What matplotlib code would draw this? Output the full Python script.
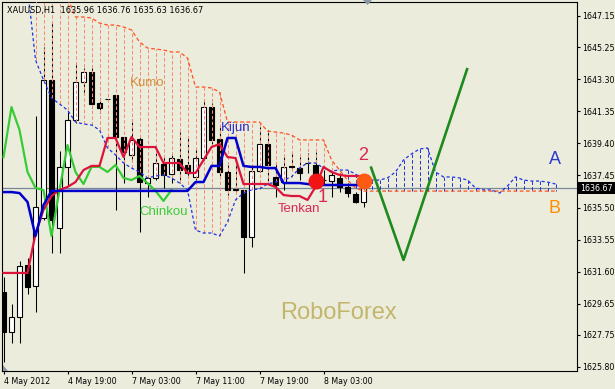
import matplotlib
matplotlib.use("Agg")
import matplotlib.pyplot as plt
import numpy as np
import matplotlib.transforms as mtransforms
from matplotlib.patches import Rectangle, Polygon

# ---------------- data ----------------
opens = [1630.36, 1627.93, 1628.84, 1632.00, 1630.73, 1634.86, 1643.26, 1634.26, 1637.97, 1640.82,
         1643.14, 1643.74, 1641.86, 1642.10, 1642.34, 1639.79, 1638.70, 1639.67, 1636.99, 1637.30,
         1638.15, 1637.54, 1638.45, 1638.09, 1637.36, 1638.51, 1641.61, 1639.67, 1637.66, 1636.57,
         1636.57, 1633.71, 1637.72, 1639.36, 1637.36, 1637.05, 1638.03, 1637.90, 1638.21, 1638.09,
         1637.17, 1637.11, 1637.30, 1636.75, 1636.32, 1635.84]
highs = [1631.27, 1629.63, 1632.25, 1632.43, 1641.07, 1645.26, 1646.79, 1638.94, 1641.31, 1644.35,
         1643.99, 1643.99, 1642.16, 1642.10, 1642.34, 1639.79, 1640.88, 1639.79, 1637.48, 1638.82,
         1638.57, 1638.70, 1640.09, 1639.85, 1639.12, 1642.10, 1641.86, 1640.40, 1638.09, 1638.39,
         1636.57, 1637.97, 1640.40, 1640.22, 1638.27, 1638.57, 1638.82, 1638.57, 1638.82, 1638.88,
         1637.78, 1637.78, 1637.60, 1636.99, 1636.44, 1637.30]
lows = [1626.10, 1627.26, 1627.26, 1630.24, 1629.15, 1634.74, 1632.73, 1632.73, 1636.87, 1640.64,
        1642.34, 1641.55, 1641.25, 1642.08, 1635.35, 1636.99, 1638.39, 1634.01, 1636.14, 1637.17,
        1636.69, 1636.99, 1636.99, 1637.36, 1637.17, 1638.39, 1639.36, 1637.36, 1636.26, 1636.44,
        1631.52, 1633.10, 1637.66, 1636.99, 1636.14, 1636.57, 1637.78, 1637.17, 1637.60, 1636.87,
        1636.87, 1636.14, 1636.44, 1636.14, 1635.78, 1635.53]
closes = [1627.93, 1628.84, 1631.94, 1630.67, 1635.53, 1643.26, 1634.74, 1637.97, 1640.82, 1643.14,
          1643.74, 1641.80, 1641.55, 1642.10, 1639.79, 1638.88, 1639.61, 1637.05, 1637.30, 1638.21,
          1637.48, 1638.51, 1637.78, 1637.60, 1638.51, 1641.61, 1639.61, 1637.66, 1636.57, 1636.60,
          1633.71, 1637.72, 1639.36, 1638.09, 1636.87, 1637.97, 1637.97, 1637.60, 1638.21, 1637.24,
          1637.17, 1637.48, 1636.75, 1636.38, 1635.84, 1636.67]

tenkan = [1631.52, 1631.52, 1631.52, 1631.52, 1633.89, 1635.35, 1636.20, 1636.57, 1636.75, 1637.05,
          1637.78, 1638.03, 1638.03, 1639.73, 1639.73, 1638.57, 1639.79, 1639.18, 1639.18, 1639.18,
          1638.21, 1638.21, 1638.21, 1637.60, 1637.60, 1638.39, 1639.18, 1639.36, 1638.57, 1638.51,
          1636.93, 1636.93, 1636.93, 1636.93, 1636.75, 1636.26, 1636.20, 1636.20, 1635.96, 1636.75,
          1637.97, 1637.66, 1637.48, 1637.42, 1637.42, 1637.42]
kijun = [1636.44, 1636.44, 1636.38, 1635.84, 1633.77, 1635.65, 1636.51, 1636.51, 1636.51, 1636.51,
         1636.51, 1636.51, 1636.51, 1636.51, 1636.51, 1636.51, 1636.51, 1636.51, 1636.51, 1636.51,
         1636.51, 1636.51, 1636.51, 1636.51, 1637.05, 1637.05, 1638.03, 1638.03, 1639.73, 1639.73,
         1638.03, 1637.97, 1637.97, 1637.90, 1637.90, 1636.99, 1636.99, 1636.99, 1636.93, 1636.87,
         1636.87, 1636.87, 1636.87, 1636.87, 1636.87, 1636.87]
chinkou = [1638.57, 1641.61, 1640.22, 1637.66, 1636.69, 1636.57, 1633.77, 1636.57, 1639.30, 1637.66,
           1636.93, 1637.97, 1637.97, 1637.66, 1638.09, 1637.30, 1637.17, 1637.42, 1636.99, 1636.51,
           1635.90, 1636.57]

cloud_start = 3
span_a = [1648.90, 1644.47, 1643.26, 1642.16, 1641.80, 1641.43, 1640.70, 1640.58, 1640.52, 1640.22,
          1639.12, 1638.70, 1638.21, 1637.90, 1637.66, 1637.30, 1637.42, 1637.48, 1637.30, 1636.99,
          1636.57, 1634.13, 1633.95, 1633.95, 1633.77, 1634.62, 1635.96, 1636.38, 1636.57, 1636.63,
          1636.93, 1637.05, 1637.17, 1637.36, 1637.90, 1638.21, 1638.21, 1637.90, 1637.72, 1637.78,
          1637.78, 1637.54, 1637.17, 1637.17, 1637.17, 1637.30, 1637.66, 1638.39, 1638.76, 1639.06,
          1639.12, 1637.66, 1637.36, 1637.36, 1637.30, 1637.17, 1636.69, 1636.57, 1636.57, 1636.38,
          1636.81, 1637.36, 1637.17, 1637.11, 1637.11, 1637.05, 1636.93]
span_b = ([1650.50, 1649.95, 1649.34, 1648.73, 1648.43, 1648.24, 1647.09, 1647.09, 1647.03, 1646.72,
           1646.60, 1646.60, 1646.48, 1646.30, 1645.57, 1645.20, 1645.14, 1645.08, 1644.96, 1644.96,
           1644.59, 1642.83, 1642.83, 1642.77, 1642.53]
          + [1640.70] * 5 + [1640.15, 1640.09, 1640.03, 1639.91] + [1639.61] * 4
          + [1638.39, 1637.78, 1637.17, 1636.69] + [1636.50] * 25)

proj_x = [45.9, 50.0, 58.0]
proj_y = [1638.00, 1632.31, 1643.99]

last_price = 1636.67
ytick_vals = [1647.15, 1645.25, 1643.30, 1641.35, 1639.40, 1637.45, 1635.50,
              1633.55, 1631.60, 1629.65, 1627.75, 1625.80]
xtick_pos = [0, 8, 16, 24, 32, 40]
xtick_labels = ["4 May 2012", "4 May 19:00", "7 May 03:00", "7 May 11:00", "7 May 19:00", "8 May 03:00"]
title = "XAUUSD,H1  1635.96 1636.76 1635.63 1636.67"

# ---------------- drawing ----------------
BG = "#ECECDC"
W, H = 615, 389
FS = 5.7
fig = plt.figure(figsize=(W / 100, H / 100), dpi=100, facecolor=BG)
ax = fig.add_axes([2 / W, 18 / H, 575 / W, 369 / H])
ax.set_facecolor(BG)
xmin = -0.1875
ax.set_xlim(xmin, xmin + 575 / 8)
ax.set_ylim(1625.556, 1648.001)

x = np.arange(len(opens))
o = np.array(opens); c = np.array(closes)
ax.axhline(last_price, color="#778899", lw=0.9, zorder=1)

ax.vlines(x, lows, highs, color="black", lw=0.75, zorder=2)
bottoms = np.minimum(o, c)
heights = np.maximum(np.abs(c - o), 0.015)
colors = ["white" if cc >= oo else "black" for oo, cc in zip(o, c)]
ax.bar(x, heights, bottom=bottoms, width=0.6, color=colors, edgecolor="black",
       linewidth=0.8, zorder=3)

cx = np.arange(cloud_start, cloud_start + len(span_a))
sa = np.array(span_a); sb = np.array(span_b)
hatch_cols = ["#F58C6E" if b >= a else "#2233E0" for a, b in zip(sa, sb)]
ax.vlines(cx, sa, sb, colors=hatch_cols, linestyles=(0, (3.5, 2.2)), lw=0.72, zorder=4)
ax.plot(cx, sa, color="#1E32E6", lw=0.9, ls=(0, (2.5, 2)), zorder=4)
ax.plot(cx, sb, color="#FF5020", lw=0.9, ls=(0, (3, 2)), zorder=4)

ax.plot(x[:len(chinkou)], chinkou, color="#36CC36", lw=1.6, zorder=5)
ax.plot(x, tenkan, color="#DC143C", lw=1.6, zorder=5)
ax.plot(x, kijun, color="#0000CD", lw=1.8, zorder=5)

ax.plot([39.0], [1637.11], "o", color="#F01414", ms=11.5, mec="none", zorder=6)
ax.plot([45.1], [1637.11], "o", color="#FF5A14", ms=11.5, mec="none", zorder=6)

ax.plot(proj_x, proj_y, color="#1E8A1E", lw=1.9, zorder=6, solid_capstyle="butt")

lab = dict(family="Liberation Sans", ha="center", va="center", zorder=7)
ax.text(17.9, 1643.07, "Kumo", color="#D4923E", fontsize=9.5, **lab)
ax.text(29.0, 1640.34, "Kijun", color="#2B2BD0", fontsize=9.5, **lab)
ax.text(20.0, 1635.23, "Chinkou", color="#3CCB3C", fontsize=9.5, **lab)
ax.text(36.9, 1635.41, "Tenkan", color="#DC2850", fontsize=9.5, **lab)
ax.text(39.9, 1636.08, "1", color="#DC2850", fontsize=13, **lab)
ax.text(45.0, 1638.67, "2", color="#DC2850", fontsize=13, **lab)
ax.text(68.9, 1638.45, "A", color="#2A3CD0", fontsize=13, **lab)
ax.text(68.9, 1635.41, "B", color="#FF8C00", fontsize=13, **lab)
ax.text(41.9, 1629.08, "RoboForex", color="#C2B66E", fontsize=17, **lab)

for s in ax.spines.values():
    s.set_color("black"); s.set_linewidth(0.8)

ax.yaxis.tick_right()
ax.set_yticks(ytick_vals)
ax.set_yticklabels([f"{v:.2f}" for v in ytick_vals])
ax.tick_params(axis="y", direction="out", length=2.2, width=0.8, pad=1.2, labelsize=FS,
               colors="black")
ax.set_xticks(xtick_pos)
ax.set_xticklabels(xtick_labels, ha="left")
ax.tick_params(axis="x", direction="out", length=2.5, width=0.8, pad=1.5, labelsize=FS,
               colors="black")

trans = mtransforms.blended_transform_factory(fig.transFigure, ax.transData)
ax.add_patch(Rectangle((578 / W, last_price - 0.37), 37 / W, 0.74, transform=trans,
                       facecolor="black", edgecolor="none", clip_on=False, zorder=8))
ax.text(596 / W, last_price, f"{last_price:.2f}", transform=trans, color="white",
        fontsize=FS, ha="center", va="center", clip_on=False, zorder=9)

fig.text(7 / W, 1 - 11 / H, title, fontsize=5.9, color="black", va="center", ha="left")

fig.patches.append(Polygon([[3 / W, 1 - 371 / H], [8 / W, 1 - 371 / H], [3 / W, 1 - 365 / H]],
                           closed=True, transform=fig.transFigure, facecolor="#8A96A8",
                           edgecolor="none"))
fig.patches.append(Polygon([[363 / W, 1 - 0 / H], [372 / W, 1 - 0 / H], [367.5 / W, 1 - 5 / H]],
                           closed=True, transform=fig.transFigure, facecolor="#8A96A8",
                           edgecolor="none"))

fig.savefig("out.png", dpi=100, facecolor=BG)
